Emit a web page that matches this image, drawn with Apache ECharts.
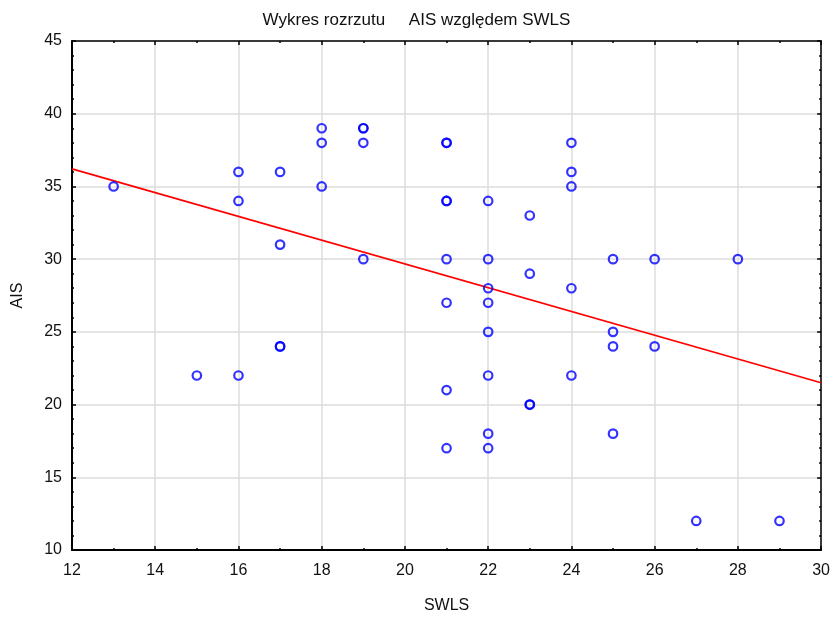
<!DOCTYPE html>
<html>
<head>
<meta charset="utf-8">
<script src="https://cdn.jsdelivr.net/npm/echarts@6/dist/echarts.min.js"></script>
<style>
    html, body { margin: 0; padding: 0; background: #fff; }
    #chart { width: 833px; height: 619px; }
</style>
</head>
<body>
<div id="chart"></div>
<script>
// SWLS / AIS pairs (doubled entries are overlapping points)
const swls = [13, 15, 16, 16, 16, 17, 17, 17, 17, 18, 18, 18, 19, 19, 19, 19,
    21, 21, 21, 21, 21, 21, 21, 21, 22, 22, 22, 22, 22, 22, 22, 22,
    23, 23, 23, 23, 24, 24, 24, 24, 24, 25, 25, 25, 25, 26, 26, 27, 28, 29];
const ais = [35, 22, 36, 34, 22, 36, 31, 24, 24, 39, 38, 35, 39, 39, 38, 30,
    38, 38, 34, 34, 30, 27, 21, 17, 34, 30, 28, 27, 25, 22, 18, 17,
    33, 29, 20, 20, 38, 36, 35, 28, 22, 30, 25, 24, 18, 30, 24, 12, 30, 12];

// fitted line endpoints, read at the plot edges
const fitX = [12, 30];
const fitY = [36.2, 21.5];

const xTicks = { min: 12, max: 30, step: 2 };
const yTicks = { min: 10, max: 45, step: 5 };

const points = swls.map((x, i) => [x, ais[i]]);
const fitLine = fitX.map((x, i) => [x, fitY[i]]);

const font = 'Liberation Sans, Arial, sans-serif';

function frameAxis(pos, t, showLabel, labelGap) {
    return {
        type: 'value',
        position: pos,
        min: t.min,
        max: t.max,
        interval: t.step,
        axisLine: { show: true, onZero: false, lineStyle: { color: '#000', width: showLabel ? 2 : 1.5 } },
        axisTick: { show: true, inside: true, length: 4, lineStyle: { color: '#000', width: 1.5 } },
        minorTick: { show: true, splitNumber: t.step, length: 2, lineStyle: { color: '#000', width: 1.5 } },
        axisLabel: {
            show: showLabel,
            color: '#111',
            fontFamily: font,
            fontSize: 16,
            margin: labelGap || 8
        },
        splitLine: { show: showLabel, lineStyle: { color: '#dcdcdc', width: 1.5 } }
    };
}

const chart = echarts.init(document.getElementById('chart'), null, { renderer: 'canvas' });

const xMain = frameAxis('bottom', xTicks, true, 13);
xMain.name = 'SWLS';
xMain.nameLocation = 'middle';
xMain.nameGap = 48;
xMain.nameTextStyle = { color: '#111', fontFamily: font, fontSize: 16 };

const yMain = frameAxis('left', yTicks, true, 10);
yMain.name = 'AIS';
yMain.nameLocation = 'middle';
yMain.nameGap = 46;
yMain.nameTextStyle = { color: '#111', fontFamily: font, fontSize: 16 };

chart.setOption({
    backgroundColor: '#fff',
    animation: false,
    title: {
        text: 'Wykres rozrzutu     AIS względem SWLS',
        left: 'center',
        top: 7,
        textStyle: { color: '#111', fontFamily: font, fontSize: 17, fontWeight: 'normal' }
    },
    grid: { left: 72, right: 11, top: 41, bottom: 67 },
    xAxis: [xMain, frameAxis('top', xTicks, false)],
    yAxis: [yMain, frameAxis('right', yTicks, false)],
    series: [
        {
            type: 'line',
            data: fitLine,
            symbol: 'none',
            lineStyle: { color: '#ff0000', width: 1.8 },
            z: 2
        },
        {
            type: 'scatter',
            data: points,
            symbol: 'circle',
            symbolSize: 8.5,
            itemStyle: { color: 'rgba(0,0,0,0)', borderColor: '#0000ff', borderWidth: 2.2 },
            z: 3
        }
    ]
});
</script>
</body>
</html>
